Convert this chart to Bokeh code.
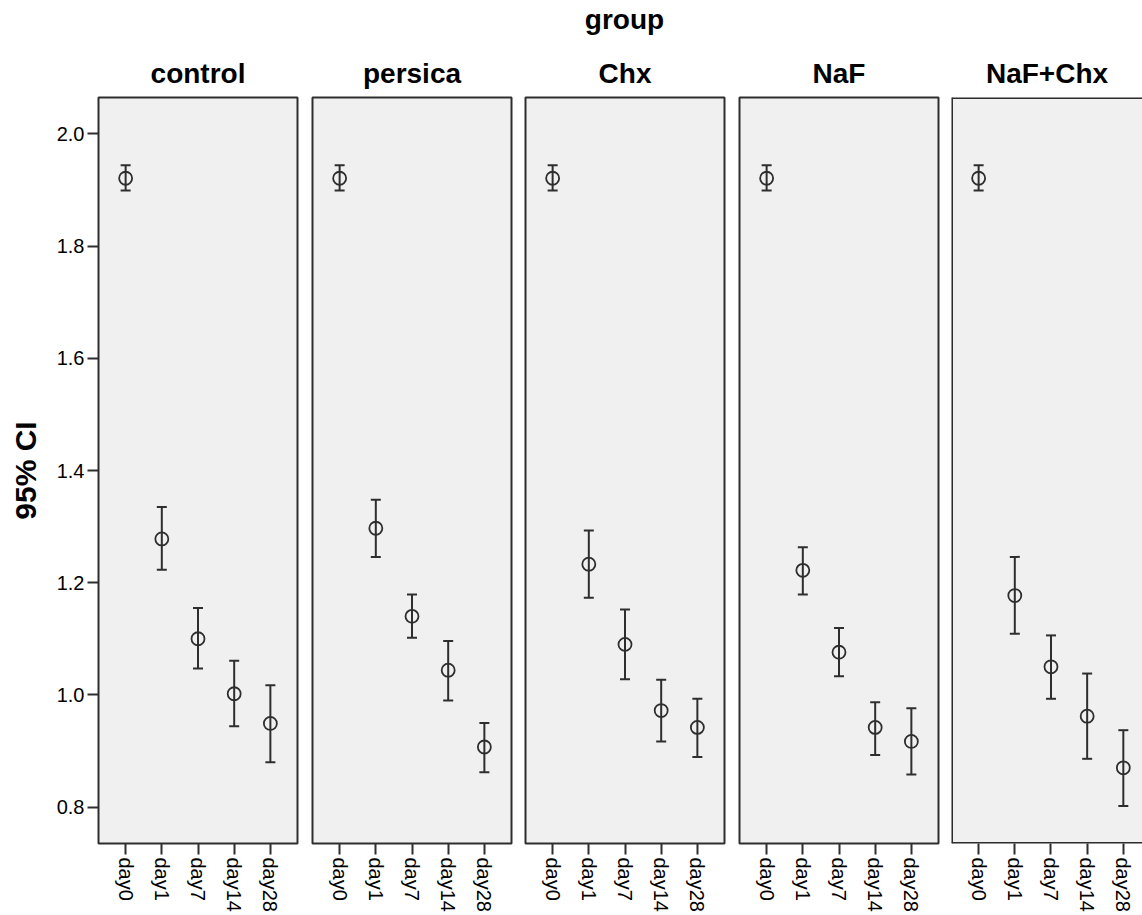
import math
from bokeh.plotting import figure
from bokeh.layouts import row, column
from bokeh.models import (Range1d, FixedTicker, Whisker, TeeHead, ColumnDataSource,
                          Label, Span, NumeralTickFormatter)
from bokeh.embed import file_html
from bokeh.resources import INLINE

# ---------------- data ----------------
days = ["day0", "day1", "day7", "day14", "day28"]
groups = ["control", "persica", "Chx", "NaF", "NaF+Chx"]
facet_title = "group"

control_mean = [1.921, 1.278, 1.100, 1.002, 0.949]
control_lo = [1.899, 1.223, 1.047, 0.944, 0.880]
control_hi = [1.944, 1.335, 1.155, 1.061, 1.017]

persica_mean = [1.921, 1.297, 1.140, 1.044, 0.907]
persica_lo = [1.899, 1.246, 1.102, 0.990, 0.862]
persica_hi = [1.944, 1.348, 1.179, 1.096, 0.950]

chx_mean = [1.921, 1.233, 1.090, 0.972, 0.942]
chx_lo = [1.899, 1.173, 1.028, 0.917, 0.889]
chx_hi = [1.944, 1.293, 1.152, 1.027, 0.993]

naf_mean = [1.921, 1.222, 1.076, 0.942, 0.917]
naf_lo = [1.899, 1.179, 1.033, 0.893, 0.858]
naf_hi = [1.944, 1.263, 1.119, 0.987, 0.976]

nafchx_mean = [1.921, 1.177, 1.050, 0.962, 0.870]
nafchx_lo = [1.899, 1.109, 0.993, 0.886, 0.802]
nafchx_hi = [1.944, 1.246, 1.106, 1.038, 0.937]

y_ticks = [0.8, 1.0, 1.2, 1.4, 1.6, 1.8, 2.0]

series = [
    (control_mean, control_lo, control_hi),
    (persica_mean, persica_lo, persica_hi),
    (chx_mean, chx_lo, chx_hi),
    (naf_mean, naf_lo, naf_hi),
    (nafchx_mean, nafchx_lo, nafchx_hi),
]

# ---------------- style ----------------
FONT = "Liberation Sans"
DARK = "#2e2e2e"
BG = "#f0f0f0"
Y_START, Y_END = 0.735, 2.065
W = 1142
HEADER_H = 40
H = 915 - HEADER_H
TOP, BOTTOM = 97 - HEADER_H, 72
widths = [305, 213, 214, 213, 197]
border_left = [98, 7, 7, 7, 6]
border_right = [8, 7, 8, 7, 0]
X_START = -0.75
x_ends = [4.75, 4.75, 4.75, 4.75, 4.53]
TITLE_SIZE = "28px"

x_pos = list(range(len(days)))

# ---------------- header ("group") ----------------
header = figure(width=W, height=HEADER_H, output_backend="svg", toolbar_location=None,
                x_range=Range1d(0, W), y_range=Range1d(0, HEADER_H), title=None,
                x_axis_location=None, y_axis_location=None, min_border=0)
header.outline_line_color = None
header.background_fill_color = "white"
header.border_fill_color = "white"
header.grid.visible = False
# centred over the five panels (first frame left edge to full-width fifth frame)
panels_center = (border_left[0] + (W - widths[-1] + border_left[-1] + 199)) / 2
header.add_layout(Label(x=panels_center, y=HEADER_H - 19, text=facet_title,
                        text_align="center", text_baseline="alphabetic",
                        text_font=FONT, text_font_size=TITLE_SIZE,
                        text_font_style="bold", text_color="black"))

figs = []
for i, g in enumerate(groups):
    mean, lo, hi = series[i]
    p = figure(width=widths[i], height=H, output_backend="svg", toolbar_location=None,
               x_range=Range1d(X_START, x_ends[i]), y_range=Range1d(Y_START, Y_END),
               y_axis_location="left" if i == 0 else None,
               min_border_left=border_left[i], min_border_right=border_right[i],
               min_border_top=TOP, min_border_bottom=BOTTOM, title=g)
    p.background_fill_color = BG
    p.border_fill_color = "white"
    p.grid.visible = False
    if i < 4:
        p.outline_line_color = DARK
        p.outline_line_width = 2
    else:
        p.outline_line_color = None
        p.add_layout(Span(location=Y_END, dimension="width", line_color=DARK, line_width=3))
        p.add_layout(Span(location=Y_START, dimension="width", line_color=DARK, line_width=3))
        p.add_layout(Span(location=X_START, dimension="height", line_color=DARK, line_width=3))

    t = p.title
    t.text_font = FONT
    t.text_font_size = TITLE_SIZE
    t.text_font_style = "bold"
    t.align = "center"
    t.text_color = "black"
    t.standoff = 17

    # x axis
    xa = p.xaxis[0]
    xa.ticker = FixedTicker(ticks=x_pos)
    xa.major_label_overrides = {k: d for k, d in zip(x_pos, days)}
    xa.major_label_orientation = -math.pi / 2
    xa.axis_line_color = None
    xa.major_tick_out = 11
    xa.major_tick_in = 0
    xa.minor_tick_line_color = None
    xa.major_tick_line_color = DARK
    xa.major_tick_line_width = 2
    xa.major_label_text_font = FONT
    xa.major_label_text_font_size = "20px"
    xa.major_label_text_color = "black"
    xa.major_label_standoff = 3

    if i == 0:
        ya = p.yaxis[0]
        ya.ticker = FixedTicker(ticks=y_ticks)
        ya.formatter = NumeralTickFormatter(format="0.0")
        ya.axis_line_color = None
        ya.major_tick_out = 11
        ya.major_tick_in = 0
        ya.minor_tick_line_color = None
        ya.major_tick_line_color = DARK
        ya.major_tick_line_width = 2
        ya.major_label_text_font = FONT
        ya.major_label_text_font_size = "20px"
        ya.major_label_text_color = "black"
        ya.major_label_standoff = 3
        ya.axis_label = "95% CI"
        ya.axis_label_text_font = FONT
        ya.axis_label_text_font_size = "30px"
        ya.axis_label_text_font_style = "bold"
        ya.axis_label_text_color = "black"
        ya.axis_label_standoff = 12

    src = ColumnDataSource(dict(x=x_pos, mean=mean, lo=lo, hi=hi))
    p.add_layout(Whisker(source=src, base="x", lower="lo", upper="hi",
                         line_color=DARK, line_width=2,
                         upper_head=TeeHead(size=10, line_color=DARK, line_width=2),
                         lower_head=TeeHead(size=10, line_color=DARK, line_width=2)))
    p.scatter("x", "mean", source=src, size=13, marker="circle",
              fill_alpha=0, line_color=DARK, line_width=1.8)
    figs.append(p)

layout = column(header, row(*figs, spacing=0), spacing=0)
open("out.html", "w").write(file_html(layout, INLINE))
